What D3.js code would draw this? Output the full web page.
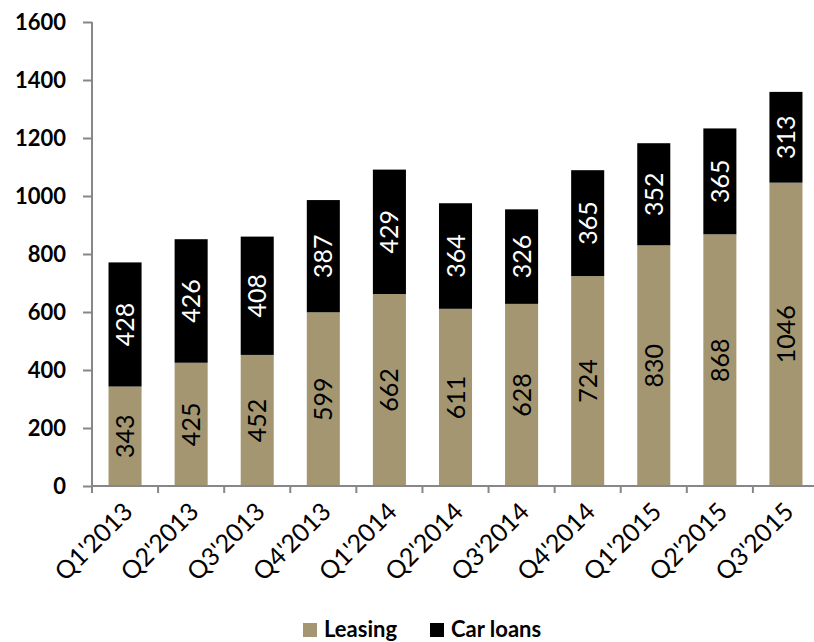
<!DOCTYPE html>
<html><head><meta charset="utf-8">
<script src="https://cdn.jsdelivr.net/npm/d3@7"></script>
<style>body{margin:0;background:#fff}svg{display:block}text{font-family:Lato,"Open Sans",sans-serif}</style>
</head><body>
<svg id="c" width="814" height="642"></svg>
<script>
const categories = ["Q1'2013","Q2'2013","Q3'2013","Q4'2013","Q1'2014","Q2'2014","Q3'2014","Q4'2014","Q1'2015","Q2'2015","Q3'2015"];
const leasing = [343,425,452,599,662,611,628,724,830,868,1046];
const carLoans = [428,426,408,387,429,364,326,365,352,365,313];
const seriesNames = ["Leasing","Car loans"];
const colors = ["#A39670","#000000"];
const yTicks = [0,200,400,600,800,1000,1200,1400,1600];

const svg = d3.select("#c");
const x = d3.scaleBand().domain(categories).range([92, 819]).paddingInner(0.5).paddingOuter(0.25);
const y = d3.scaleLinear().domain([0,1600]).range([486, 22]);

const data = categories.map((c,i)=>({cat:c, Leasing:leasing[i], "Car loans":carLoans[i]}));
const stacked = d3.stack().keys(seriesNames)(data);

stacked.forEach((s,si)=>{
  const g = svg.append("g");
  g.selectAll("rect").data(s).join("rect")
    .attr("x", d=>x(d.data.cat)).attr("width", x.bandwidth())
    .attr("y", d=>y(d[1])).attr("height", d=>y(d[0])-y(d[1]))
    .attr("fill", colors[si]);
  g.selectAll("text").data(s).join("text")
    .attr("transform", d=>`translate(${x(d.data.cat)+x.bandwidth()/2+9},${(y(d[0])+y(d[1]))/2}) rotate(-90)`)
    .attr("text-anchor","middle")
    .attr("font-size", 25)
    .attr("fill", si===0 ? "#000" : "#fff")
    .text(d=>d[1]-d[0]);
});

const yAxis = svg.append("g").attr("transform","translate(92,0)")
  .call(d3.axisLeft(y).tickValues(yTicks).tickSize(9).tickPadding(17).tickFormat(d3.format("d")));
yAxis.selectAll("path,line").attr("stroke","#878787").attr("stroke-width",2);
yAxis.select(".domain").attr("d","M0,22V486");
yAxis.selectAll("text").attr("font-size",22).attr("font-weight","bold").attr("fill","#000").attr("dy","0.36em");

const step = x.step();
const bounds = categories.map((c,i)=>92 + i*step).concat([92+categories.length*step]);
const xg = svg.append("g");
xg.append("line").attr("x1",92).attr("x2",819).attr("y1",486).attr("y2",486).attr("stroke","#878787").attr("stroke-width",2);
xg.selectAll("line.t").data(bounds).join("line").attr("class","t")
  .attr("x1",d=>d).attr("x2",d=>d).attr("y1",486).attr("y2",493)
  .attr("stroke","#878787").attr("stroke-width",2);
xg.selectAll("text").data(categories).join("text")
  .attr("transform", d=>`translate(${x(d)+x.bandwidth()/2+3},${507}) rotate(-45)`)
  .attr("text-anchor","end").attr("font-size",25).attr("fill","#000").attr("dy","0.35em")
  .text(d=>d);

const legend = svg.append("g");
const lx = [303, 430];
seriesNames.forEach((n,i)=>{
  legend.append("rect").attr("x",lx[i]).attr("y",623).attr("width",14).attr("height",14).attr("fill",colors[i]);
  legend.append("text").attr("x",lx[i]+21).attr("y",637).attr("font-size",22).attr("font-weight","bold").attr("fill","#000").text(n);
});
</script>
</body></html>
